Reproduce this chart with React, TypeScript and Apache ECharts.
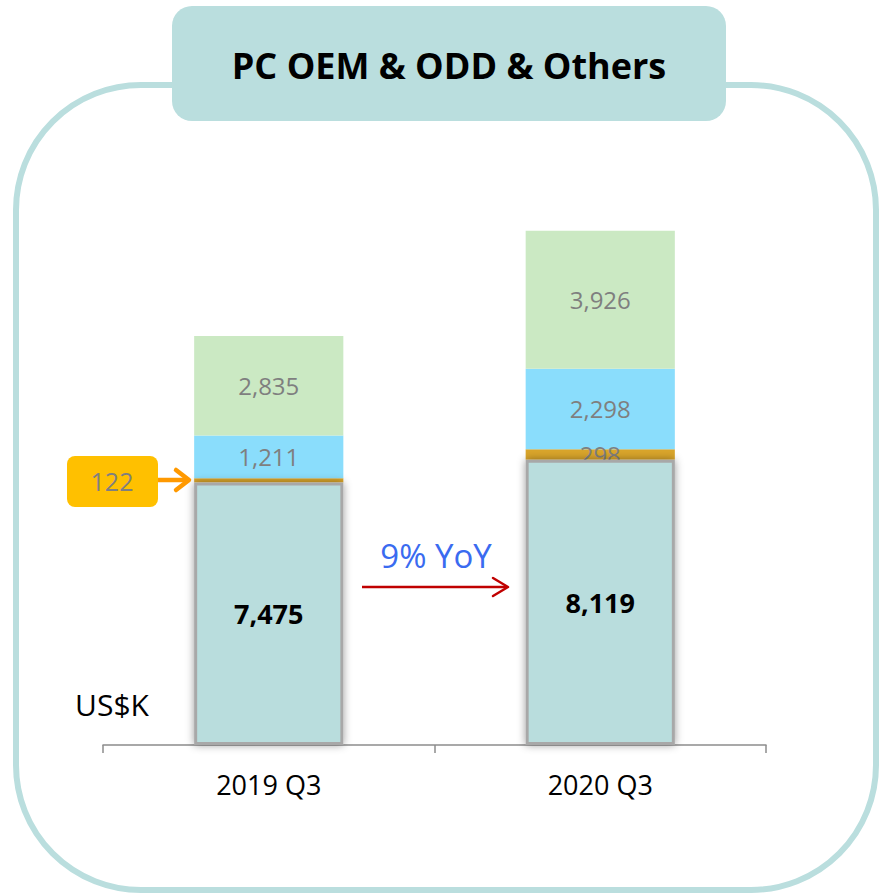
import React, { useEffect, useRef } from "react";
import * as echarts from "echarts";

const categories = ["2019 Q3", "2020 Q3"];
const baseValues = [7475, 8119];
const odValues = [122, 298];
const blueValues = [1211, 2298];
const greenValues = [2835, 3926];
const titleText = "PC OEM & ODD & Others";
const unitText = "US$K";
const yoyText = "9% YoY";
const calloutText = "122";

const FONT = "'Open Sans', 'Noto Sans', sans-serif";

export default function App() {
  const ref = useRef<HTMLDivElement>(null);
  useEffect(() => {
    if (!ref.current) return;
    const chart = echarts.init(ref.current, null, { renderer: "svg" });
    const fmt = (p: any) => Number(p.value).toLocaleString("en-US");
    const grayLabel = {
      show: true,
      position: "inside",
      color: "#7F7F7F",
      fontSize: 24,
      fontFamily: FONT,
      formatter: fmt,
    };
    chart.setOption({
      animation: false,
      backgroundColor: "#ffffff",
      grid: { left: 103, right: 113, top: 183, bottom: 150 },
      xAxis: {
        type: "category",
        data: categories,
        axisLine: { lineStyle: { color: "#8C8C8C", width: 1.5 } },
        axisTick: { show: true, length: 8, lineStyle: { color: "#8C8C8C", width: 1.5 } },
        axisLabel: { color: "#000", fontSize: 27, fontFamily: FONT, margin: 26 },
      },
      yAxis: { type: "value", min: 0, max: 16000, show: false, splitLine: { show: false } },
      series: [
        {
          name: "base",
          type: "bar",
          stack: "s",
          barWidth: "45%",
          data: baseValues,
          itemStyle: {
            color: "#B9DDDD",
            borderColor: "#A8A8A8",
            borderWidth: 3,
            shadowBlur: 8,
            shadowColor: "rgba(0,0,0,0.4)",
          },
          label: {
            show: true,
            position: "inside",
            color: "#000",
            fontSize: 27,
            fontWeight: "bold",
            fontFamily: FONT,
            formatter: fmt,
          },
          z: 3,
        },
        {
          name: "odd",
          type: "bar",
          stack: "s",
          data: odValues.map((v, i) => ({ value: v, label: { show: i !== 0 } })),
          itemStyle: { color: "#D9A52B" },
          label: { ...grayLabel, offset: [0, 0] },
          z: 2,
        },
        {
          name: "blue",
          type: "bar",
          stack: "s",
          data: blueValues,
          itemStyle: { color: "#8ADDFC" },
          label: grayLabel,
          z: 2,
        },
        {
          name: "green",
          type: "bar",
          stack: "s",
          data: greenValues,
          itemStyle: { color: "#CBE9C3" },
          label: grayLabel,
          z: 2,
        },
      ],
      graphic: [
        {
          type: "rect",
          z: -10,
          shape: { x: 16, y: 85, width: 860, height: 805, r: 125 },
          style: { fill: "none", stroke: "#BADEDE", lineWidth: 6 },
        },
        {
          type: "rect",
          z: -5,
          shape: { x: 172, y: 6, width: 554, height: 115, r: 20 },
          style: { fill: "#BADEDE" },
        },
        {
          type: "text",
          z: 10,
          x: 449,
          y: 65,
          style: {
            text: titleText,
            fill: "#000",
            font: `bold 36px ${FONT}`,
            textAlign: "center",
            textVerticalAlign: "middle",
          },
        },
        {
          type: "text",
          z: 10,
          x: 112,
          y: 704,
          style: {
            text: unitText,
            fill: "#000",
            font: `30px ${FONT}`,
            textAlign: "center",
            textVerticalAlign: "middle",
          },
        },
        {
          type: "rect",
          z: 10,
          shape: { x: 67, y: 456, width: 91, height: 51, r: 8 },
          style: { fill: "#FFC000" },
        },
        {
          type: "text",
          z: 11,
          x: 112,
          y: 481,
          style: {
            text: calloutText,
            fill: "#7F7F7F",
            font: `25px ${FONT}`,
            textAlign: "center",
            textVerticalAlign: "middle",
          },
        },
        {
          type: "line",
          z: 10,
          shape: { x1: 158, y1: 480, x2: 188, y2: 480 },
          style: { stroke: "#FF9900", lineWidth: 4.5 },
        },
        {
          type: "polyline",
          z: 10,
          shape: { points: [[176, 470], [189, 480], [176, 490]] },
          style: { stroke: "#FF9900", lineWidth: 4.5, fill: "none", lineCap: "round", lineJoin: "round" },
        },
        {
          type: "text",
          z: 10,
          x: 436,
          y: 555,
          style: {
            text: yoyText,
            fill: "#3A6BF0",
            font: `33px ${FONT}`,
            textAlign: "center",
            textVerticalAlign: "middle",
          },
        },
        {
          type: "line",
          z: 10,
          shape: { x1: 362, y1: 587, x2: 507, y2: 587 },
          style: { stroke: "#C00000", lineWidth: 2.5 },
        },
        {
          type: "polyline",
          z: 10,
          shape: { points: [[493, 578], [508, 587], [493, 596]] },
          style: { stroke: "#C00000", lineWidth: 2.5, fill: "none", lineCap: "round", lineJoin: "round" },
        },
      ],
    });
    return () => chart.dispose();
  }, []);
  return (
    <div
      ref={ref}
      style={{ position: "fixed", left: 0, top: 0, width: 879, height: 895 }}
    />
  );
}
